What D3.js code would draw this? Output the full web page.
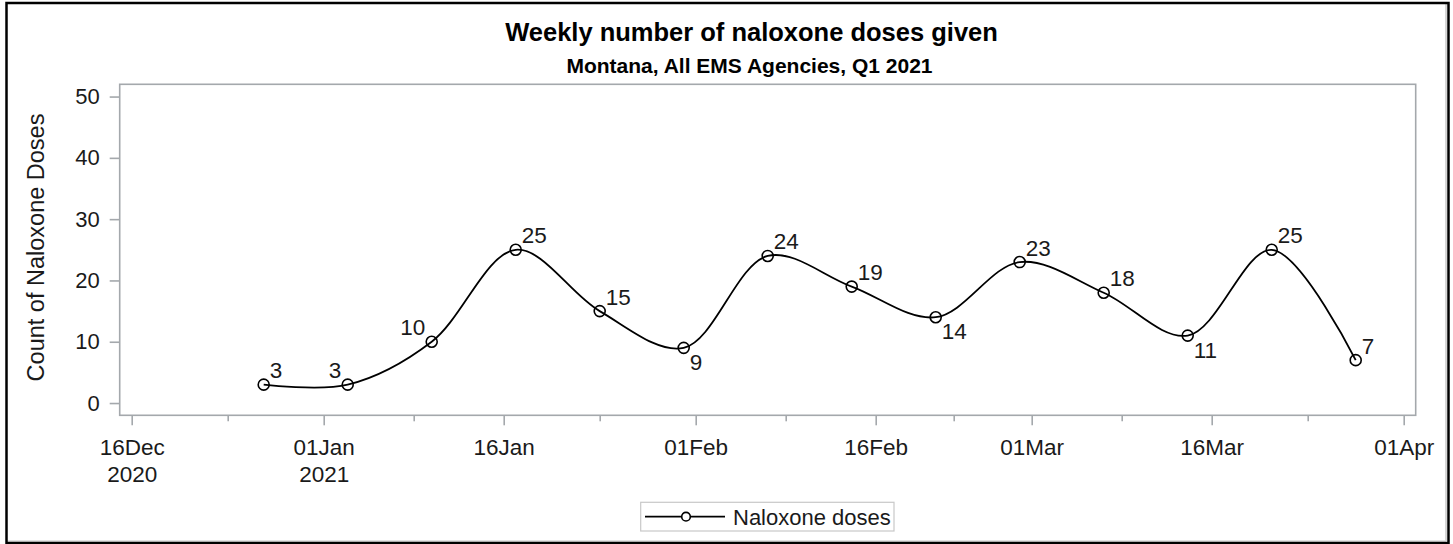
<!DOCTYPE html>
<html>
<head>
<meta charset="utf-8">
<script src="https://cdn.jsdelivr.net/npm/d3@7"></script>
<style>
  html, body { margin: 0; padding: 0; background: #fff; }
  svg { display: block; }
  text { font-family: "Liberation Sans", Arial, sans-serif; }
</style>
</head>
<body>
<svg id="chart" width="1453" height="544"></svg>
<script>
// ---- data ----
const weekDates = ["2020-12-27","2021-01-03","2021-01-10","2021-01-17","2021-01-24","2021-01-31",
                   "2021-02-07","2021-02-14","2021-02-21","2021-02-28","2021-03-07","2021-03-14",
                   "2021-03-21","2021-03-28"];
const doses = [3, 3, 10, 25, 15, 9, 24, 19, 14, 23, 18, 11, 25, 7];
const xTickDates = ["2020-12-16","2021-01-01","2021-01-16","2021-02-01","2021-02-16","2021-03-01","2021-03-16","2021-04-01"];
const xTickLabels = [["16Dec","2020"],["01Jan","2021"],["16Jan"],["01Feb"],["16Feb"],["01Mar"],["16Mar"],["01Apr"]];
const yTicks = [0, 10, 20, 30, 40, 50];
const titleText = "Weekly number of naloxone doses given";
const subtitleText = "Montana, All EMS Agencies, Q1 2021";
const yAxisLabel = "Count of Naloxone Doses";
const seriesName = "Naloxone doses";

// ---- layout ----
const svg = d3.select("#chart");
const plot = { left: 119.7, right: 1415.7, top: 84.3, bottom: 415.3 };
const parse = d3.utcParse("%Y-%m-%d");
const data = weekDates.map((d, i) => ({ date: parse(d), value: doses[i] }));

const x = d3.scaleUtc()
  .domain([parse("2020-12-15"), parse("2021-04-02")])
  .range([plot.left, plot.right]);
const y = d3.scaleLinear().domain([-2, 52]).range([plot.bottom, plot.top]);

const axisColor = "#a4a8ac";
const textColor = "#1a1a1a";

// outer border
svg.append("line").attr("x1", 1446).attr("x2", 1446).attr("y1", 4).attr("y2", 541)
  .attr("stroke", "#c8c8c8").attr("stroke-width", 1.5);
svg.append("line").attr("x1", 7).attr("x2", 1446).attr("y1", 541).attr("y2", 541)
  .attr("stroke", "#d8d8d8").attr("stroke-width", 1.5);
svg.append("rect").attr("x", 6.5).attr("y", 3).attr("width", 1442).attr("height", 540)
  .attr("fill", "none").attr("stroke", "#000").attr("stroke-width", 2.5);

// titles
svg.append("text").attr("x", 751.5).attr("y", 40.5).attr("text-anchor", "middle")
  .attr("font-size", 25.5).attr("font-weight", "bold").attr("fill", "#000").text(titleText);
svg.append("text").attr("x", 749.5).attr("y", 73).attr("text-anchor", "middle")
  .attr("font-size", 21).attr("font-weight", "bold").attr("fill", "#000").text(subtitleText);

// plot frame
svg.append("rect").attr("x", plot.left).attr("y", plot.top)
  .attr("width", plot.right - plot.left).attr("height", plot.bottom - plot.top)
  .attr("fill", "none").attr("stroke", axisColor).attr("stroke-width", 1.6);

// x axis
const majorDates = xTickDates.map(parse);
const xAxis = d3.axisBottom(x).tickValues(majorDates).tickSize(10).tickFormat("");
const gx = svg.append("g").attr("transform", `translate(0,${plot.bottom})`).call(xAxis);
gx.select(".domain").remove();
gx.selectAll(".tick line").attr("stroke", axisColor).attr("stroke-width", 1.6);
const minorDates = d3.pairs(majorDates).map(([a, b]) => new Date((+a + +b) / 2));
const gxm = svg.append("g").attr("transform", `translate(0,${plot.bottom})`)
  .call(d3.axisBottom(x).tickValues(minorDates).tickSize(6).tickFormat(""));
gxm.select(".domain").remove();
gxm.selectAll(".tick line").attr("stroke", axisColor).attr("stroke-width", 1.6);

gx.selectAll(".tick").each(function(d, i) {
  const t = d3.select(this).append("text").attr("fill", textColor)
    .attr("font-size", 22.5).attr("text-anchor", "middle").attr("y", 40);
  xTickLabels[i].forEach((s, j) => {
    t.append("tspan").attr("x", 0).attr("dy", j === 0 ? 0 : 26.5).text(s);
  });
});

// y axis
const gy = svg.append("g").attr("transform", `translate(${plot.left},0)`)
  .call(d3.axisLeft(y).tickValues(yTicks).tickSize(10).tickPadding(0));
gy.select(".domain").remove();
gy.selectAll(".tick line").attr("stroke", axisColor).attr("stroke-width", 1.6);
gy.selectAll(".tick text").attr("font-size", 22).attr("fill", textColor)
  .attr("x", -20).attr("font-family", "Liberation Sans, Arial, sans-serif");

svg.append("text").attr("transform", `translate(44,247.5) rotate(-90)`)
  .attr("text-anchor", "middle").attr("font-size", 23.5).attr("fill", textColor).text(yAxisLabel);

// line
const line = d3.line().x(d => x(d.date)).y(d => y(d.value)).curve(d3.curveCatmullRom.alpha(0.5));
svg.append("path").datum(data).attr("d", line)
  .attr("fill", "none").attr("stroke", "#000").attr("stroke-width", 1.8);

// markers
svg.selectAll("circle.pt").data(data).join("circle").attr("class", "pt")
  .attr("cx", d => x(d.date)).attr("cy", d => y(d.value)).attr("r", 5.5)
  .attr("fill", "none").attr("stroke", "#000").attr("stroke-width", 1.6);

// data labels: placement chosen to avoid the line
function placement(i) {
  const v = doses[i], p = doses[i - 1], n = doses[i + 1];
  if (p !== undefined && n !== undefined && p > v && n > v) return "lr";
  if (n !== undefined && n > v) return "ul";
  return "ur";
}
svg.selectAll("text.lbl").data(data).join("text").attr("class", "lbl")
  .attr("font-size", 22.5).attr("fill", textColor)
  .each(function(d, i) {
    const pl = placement(i);
    const cx = x(d.date), cy = y(d.value);
    const t = d3.select(this).text(d.value);
    if (pl === "ur") t.attr("x", cx + 6).attr("y", cy - 6.5).attr("text-anchor", "start");
    else if (pl === "ul") t.attr("x", cx - 6.5).attr("y", cy - 6.5).attr("text-anchor", "end");
    else t.attr("x", cx + 6).attr("y", cy + 22).attr("text-anchor", "start");
  });

// legend
const lg = svg.append("g");
lg.append("rect").attr("x", 640.7).attr("y", 502.3).attr("width", 253.3).attr("height", 28.7)
  .attr("fill", "#fff").attr("stroke", "#c8c8c8").attr("stroke-width", 1.2);
lg.append("line").attr("x1", 645).attr("x2", 725).attr("y1", 516.7).attr("y2", 516.7)
  .attr("stroke", "#000").attr("stroke-width", 1.8);
lg.append("circle").attr("cx", 686).attr("cy", 516.7).attr("r", 4.3)
  .attr("fill", "#fff").attr("stroke", "#000").attr("stroke-width", 1.6);
lg.append("text").attr("x", 733).attr("y", 524.5).attr("font-size", 22)
  .attr("fill", textColor).text(seriesName);
</script>
</body>
</html>
